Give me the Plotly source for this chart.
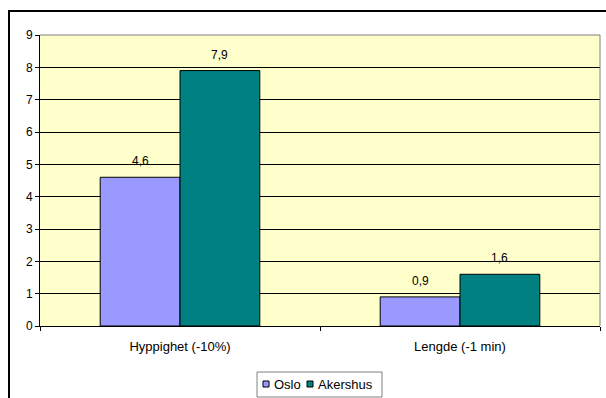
import plotly.graph_objects as go

categories = ["Hyppighet (-10%)", "Lengde (-1 min)"]
series_names = ["Oslo", "Akershus"]
oslo = [4.6, 0.9]
akershus = [7.9, 1.6]
series_colors = ["#9999FF", "#008080"]
y_ticks = list(range(0, 10))

W, H = 606, 398
L, R, T, B = 40, 6, 35, 72
pw, ph = W - L - R, H - T - B


def px(x):
    return (x - L) / pw


def py(y):
    return (H - B - y) / ph


FAMILY = "Liberation Sans, Arial, sans-serif"
font = dict(family=FAMILY, size=12, color="black")

fig = go.Figure()
for name, vals, col, off in zip(series_names, [oslo, akershus], series_colors, [-0.5, 0.5]):
    fig.add_trace(go.Bar(
        name=name, x=categories, y=vals,
        marker=dict(color=col, line=dict(color="black", width=1)),
        showlegend=False,
    ))
    # value labels above each bar
    for i, v in enumerate(vals):
        fig.add_annotation(
            x=i + off * 0.285, y=v, xref="x", yref="y",
            text=f"{v:.1f}".replace(".", ","), showarrow=False,
            yanchor="middle", yshift=16, font=font,
        )

# outer chart frame
fig.add_shape(type="rect", xref="paper", yref="paper",
              x0=px(9), x1=px(620), y0=py(420), y1=py(11),
              line=dict(color="black", width=2), fillcolor="rgba(0,0,0,0)",
              layer="below")

# legend box with small square swatches
lx0, lx1, ly0, ly1 = 257, 382, 372, 397
cy = (ly0 + ly1) / 2 - 0.5
fig.add_shape(type="rect", xref="paper", yref="paper",
              x0=px(lx0), x1=px(lx1), y0=py(ly1), y1=py(ly0),
              line=dict(color="#808080", width=1), fillcolor="white")
sw_x = [263, 307]
for name, col, sx in zip(series_names, series_colors, sw_x):
    fig.add_shape(type="rect", xref="paper", yref="paper",
                  x0=px(sx), x1=px(sx + 6), y0=py(cy + 3), y1=py(cy - 3),
                  line=dict(color="black", width=1), fillcolor=col)
    fig.add_annotation(xref="paper", yref="paper", x=px(sx + 9), y=py(cy),
                       text=name, showarrow=False, xanchor="left",
                       yanchor="middle",
                       font=dict(family=FAMILY, size=13, color="black"))

fig.update_layout(
    width=W, height=H,
    margin=dict(l=L, r=R, t=T, b=B, autoexpand=False),
    paper_bgcolor="white",
    plot_bgcolor="#FFFFCC",
    barmode="group",
    bargap=0.43,
    bargroupgap=0,
    font=font,
    showlegend=False,
    xaxis=dict(
        showgrid=False, showline=True, linecolor="black", linewidth=1,
        ticks="outside", ticklen=4, tickcolor="black",
        tickson="boundaries", ticklabelstandoff=8,
        tickfont=dict(family=FAMILY, size=13, color="black"),
    ),
    yaxis=dict(
        range=[0, 9], tickvals=y_ticks,
        showgrid=True, gridcolor="black", gridwidth=1,
        showline=True, linecolor="black", linewidth=1,
        ticks="outside", ticklen=4, tickcolor="black",
        tickfont=dict(family=FAMILY, size=12, color="black"),
        zeroline=False,
    ),
)

# grey border on top and right of the plot area
fig.add_shape(type="line", xref="paper", yref="paper", x0=0, x1=1, y0=1, y1=1,
              line=dict(color="#808080", width=1))
fig.add_shape(type="line", xref="paper", yref="paper", x0=1, x1=1, y0=0, y1=1,
              line=dict(color="#808080", width=1))

fig.write_html("out.html")
